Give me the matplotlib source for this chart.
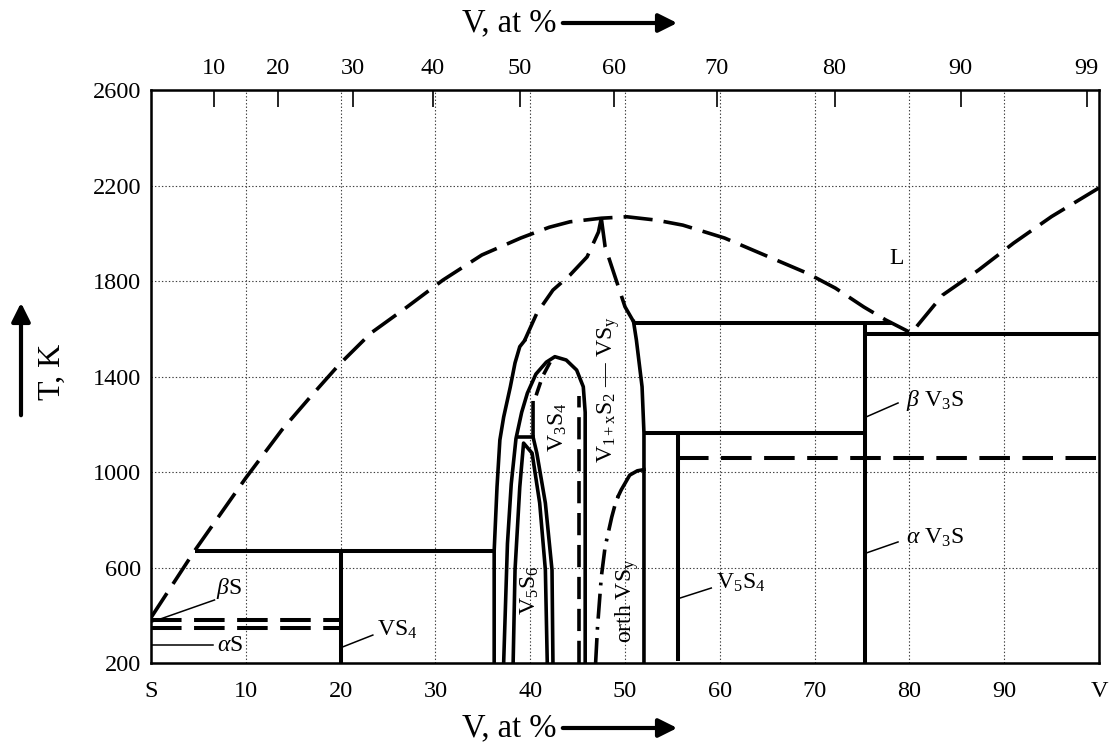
import matplotlib
matplotlib.use('Agg')
import matplotlib.pyplot as plt

plt.rcParams['font.family'] = ['Liberation Serif', 'DejaVu Serif']
plt.rcParams['mathtext.fontset'] = 'custom'
plt.rcParams['mathtext.rm'] = 'Liberation Serif'
plt.rcParams['mathtext.it'] = 'Liberation Serif:italic'
plt.rcParams['mathtext.default'] = 'rm'
plt.rcParams['lines.scale_dashes'] = False

# axes
x_ticks = [0, 10, 20, 30, 40, 50, 60, 70, 80, 90, 100]
x_labels = ['S', '10', '20', '30', '40', '50', '60', '70', '80', '90', 'V']
t_ticks = [200, 600, 1000, 1400, 1800, 2200, 2600]
at_pos = [6.6, 13.4, 21.3, 29.7, 38.9, 48.8, 59.7, 72.1, 85.4, 98.7]
at_labels = ['10', '20', '30', '40', '50', '60', '70', '80', '90', '99']

# liquidus (dashed)
liq_x = [0, 4.6, 10, 13.8, 16.8, 19.8, 23.2, 27, 30.8, 34.9, 39, 42, 44.2, 47.5,
         50.2, 53.3, 56.1, 60.5, 64.7, 69.2, 72.2, 75.2, 77.5, 80.2,
         83.5, 87.3, 91, 95, 100]
liq_t = [390, 670, 975, 1176, 1314, 1448, 1582, 1691, 1804, 1909, 1980, 2025, 2048, 2063,
         2069, 2055, 2034, 1980, 1909, 1833, 1770, 1691, 1637, 1582,
         1741, 1846, 1959, 2070, 2190]

# outer boundary of the V5S6/V3S4 field: solid part, then dashed part
outer_x = [36.2, 36.2, 36.5, 36.8, 37.2, 37.9, 38.4, 38.9, 39.4]
outer_t = [200, 670, 938, 1134, 1230, 1356, 1457, 1525, 1550]
outer_dash_x = [39.4, 40.7, 42.4, 44.2, 46.0, 47.2, 47.5]
outer_dash_t = [1550, 1665, 1762, 1825, 1901, 2005, 2063]

# V1+xS2 left boundary dashed from the spike, then solid
spike_x = [47.5, 47.9, 48.6, 49.3, 50.0, 50.9]
spike_t = [2063, 1944, 1860, 1776, 1692, 1630]
vs_x = [50.9, 51.2, 51.8, 52.0, 52.0]
vs_t = [1630, 1553, 1357, 1163, 200]

# V3S4 loop
v34_x = [37.2, 37.6, 38.0, 38.5, 39.1, 39.7, 40.6, 41.7, 42.6, 43.8, 44.9, 45.6, 45.8, 45.8]
v34_t = [200, 700, 950, 1140, 1250, 1330, 1410, 1460, 1483, 1469, 1427, 1357, 1250, 200]
v34_dash_x = [42.1, 41.3, 40.7, 40.4]
v34_dash_t = [1460, 1400, 1330, 1290]
v34_inner_x = [45.1, 45.1]
v34_inner_t = [200, 1320]

# V5S6 loops
v56_x = [38.2, 38.4, 38.9, 39.3, 40.2, 41.0, 41.6, 41.8]
v56_t = [200, 590, 937, 1121, 1079, 870, 590, 200]
v56_out_x = [40.3, 40.3, 40.7, 41.6, 42.3, 42.4]
v56_out_t = [1290, 1147, 1079, 870, 590, 200]
v56_cap_x = [38.8, 40.3]
v56_cap_t = [1147, 1147]

# orth VSy boundary (dash-dot then solid arc)
orth_x = [46.9, 47.1, 47.5, 47.9, 48.6, 49.0, 49.3]
orth_t = [200, 350, 560, 686, 811, 870, 900]
orth_arc_x = [49.3, 49.6, 50.5, 51.3, 52.0]
orth_arc_t = [900, 925, 987, 1005, 1010]

# isotherms
iso_solid = [  # (x0, x1, T)
    (4.6, 36.2, 669),
    (50.9, 78.2, 1622),
    (75.3, 100, 1580),
    (52.0, 75.3, 1165),
]
iso_dashed = [
    (0, 20.0, 380),
    (0, 20.0, 347),
    (55.6, 100, 1060),
]
verticals = [  # (x, T0, T1)
    (20.0, 200, 669),
    (75.3, 200, 1622),
    (55.6, 210, 1165),
]

fig = plt.figure(figsize=(11.09, 7.47), dpi=100)
ax = fig.add_axes([151 / 1109, 1 - 663 / 747, 948 / 1109, 573 / 747])
ax.set_xlim(0, 100)
ax.set_ylim(200, 2600)

lw = 2.6
dash = (0, (21, 8))
ax.plot(liq_x, liq_t, color='black', lw=lw, ls=dash)
ax.plot(outer_x, outer_t, color='black', lw=lw)
ax.plot(outer_dash_x, outer_dash_t, color='black', lw=lw, ls=dash)
ax.plot(spike_x, spike_t, color='black', lw=lw, ls=dash)
ax.plot(vs_x, vs_t, color='black', lw=lw)
ax.plot(v34_x, v34_t, color='black', lw=lw)
ax.plot(v34_dash_x, v34_dash_t, color='black', lw=lw, ls=(0, (10, 6)))
ax.plot(v34_inner_x, v34_inner_t, color='black', lw=lw, ls=(0, (16, 7)))
ax.plot(v56_x, v56_t, color='black', lw=lw)
ax.plot(v56_out_x, v56_out_t, color='black', lw=lw)
ax.plot(v56_cap_x, v56_cap_t, color='black', lw=lw)
ax.plot(orth_x, orth_t, color='black', lw=lw, ls=(0, (18, 6, 2, 6)))
ax.plot(orth_arc_x, orth_arc_t, color='black', lw=lw)

for x0, x1, t in iso_solid:
    ax.plot([x0, x1], [t, t], color='black', lw=lw + 0.3, solid_capstyle='butt')
for x0, x1, t in iso_dashed:
    ax.plot([x0, x1], [t, t], color='black', lw=lw + 0.3, ls=(0, (22, 9)))
for x, t0, t1 in verticals:
    ax.plot([x, x], [t0, t1], color='black', lw=lw + 0.3, solid_capstyle='butt')

# leader lines
leaders = [
    ([0.1, 6.7], [372, 464]),
    ([0, 6.5], [275, 275]),
    ([20.2, 23.4], [267, 317]),
    ([55.8, 59.1], [472, 514]),
    ([75.4, 78.8], [660, 707]),
    ([75.4, 78.8], [1230, 1289]),
]
for lx, lt in leaders:
    ax.plot(lx, lt, color='black', lw=1.1)

fs = 17.5
fa = 17
ax.text(6.9, 514, r'$\mathit{\beta}$S', fontsize=fa, va='center')
ax.text(7.0, 275, r'$\mathit{\alpha}$S', fontsize=fa, va='center')
ax.text(23.8, 338, r'VS$_4$', fontsize=fa, va='center')
ax.text(59.6, 535, r'V$_5$S$_4$', fontsize=fa, va='center')
ax.text(79.6, 723, r'$\mathit{\alpha}$ V$_3$S', fontsize=fa, va='center')
ax.text(79.6, 1301, r'$\mathit{\beta}$ V$_3$S', fontsize=fa, va='center')
ax.text(78.6, 1896, 'L', fontsize=fa, ha='center', va='center')
ax.text(50.2, 460, r'orth VS$_y$', fontsize=fa, rotation=90, ha='center', va='center')
ax.text(48.3, 1343, r'V$_{1+x}$S$_2$ — VS$_y$', fontsize=fa, rotation=90, ha='center', va='center')
ax.text(42.9, 1188, r'V$_3$S$_4$', fontsize=fa, rotation=90, ha='center', va='center')
ax.text(40.0, 505, r'V$_5$S$_6$', fontsize=fa, rotation=90, ha='center', va='center')

# grid and ticks
ax.set_xticks(x_ticks, x_labels, fontsize=fs)
ax.set_yticks(t_ticks, [str(t) for t in t_ticks], fontsize=fs)
ax.tick_params(axis='x', length=0, pad=13)
ax.tick_params(axis='y', length=0, pad=7)
for xg in x_ticks[1:-1]:
    ax.axvline(xg, color='0.25', lw=0.8, ls=(0, (1, 1.5)), zorder=0)
for tg in t_ticks[1:-1]:
    ax.axhline(tg, color='0.25', lw=0.8, ls=(0, (1, 1.5)), zorder=0)
for s in ax.spines.values():
    s.set_linewidth(1.8)

ax_top = ax.twiny()
ax_top.set_xlim(0, 100)
ax_top.set_xticks(at_pos, at_labels, fontsize=fs)
ax_top.tick_params(axis='x', direction='in', length=12, width=1.2, pad=8)

# axis titles with arrows
fig.text(462 / 1109, 1 - 23 / 747, 'V, at %', fontsize=23.5, va='center', ha='left')
fig.text(462 / 1109, 1 - 728 / 747, 'V, at %', fontsize=23.5, va='center', ha='left')
for yy in (23, 728):
    fig.add_artist(matplotlib.patches.FancyArrowPatch(
        (560 / 1109, 1 - yy / 747), (680 / 1109, 1 - yy / 747),
        transform=fig.transFigure, arrowstyle='-|>', mutation_scale=28,
        lw=3, color='black'))
fig.text(52 / 1109, 1 - 372 / 747, 'T, K', fontsize=23, rotation=90, va='center', ha='center')
fig.add_artist(matplotlib.patches.FancyArrowPatch(
    (21 / 1109, 1 - 418 / 747), (21 / 1109, 1 - 300 / 747),
    transform=fig.transFigure, arrowstyle='-|>', mutation_scale=28,
    lw=3, color='black'))

fig.savefig('out.png', dpi=100)
